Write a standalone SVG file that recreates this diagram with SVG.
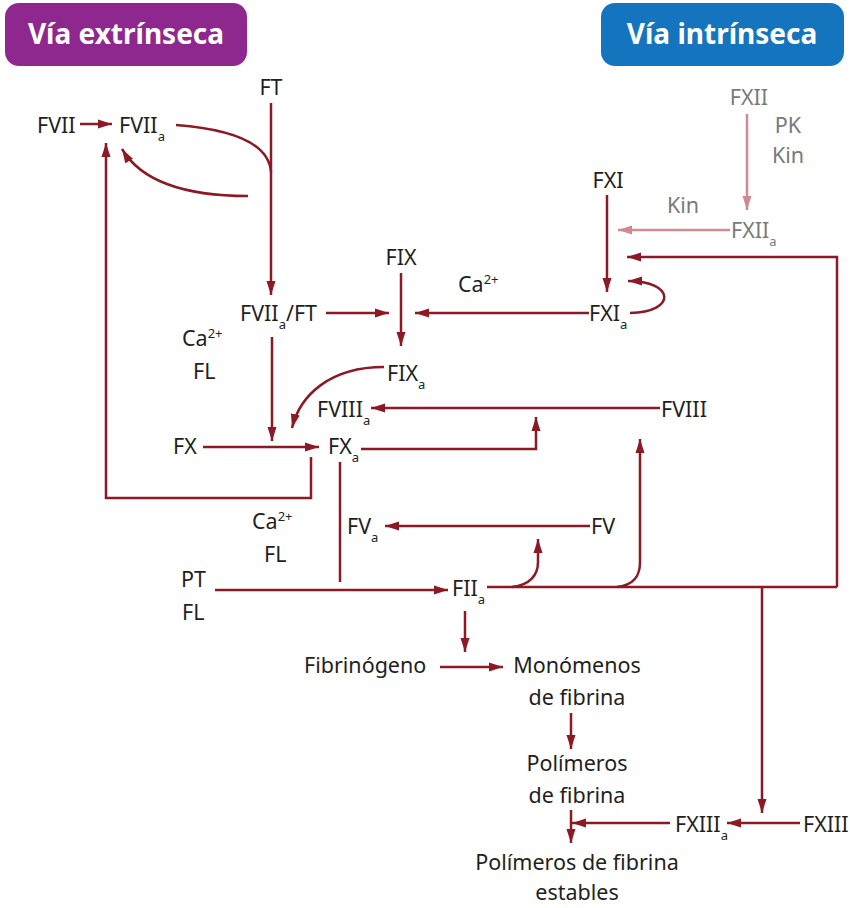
<svg xmlns="http://www.w3.org/2000/svg" width="850" height="908" viewBox="0 0 850 908">
<style>
text{font-family:"Noto Sans","Open Sans","Liberation Sans",sans-serif;font-size:21.5px;fill:#231F20}
.g{fill:#7a7a7a}
.h{font-size:28px;font-weight:bold;fill:#fff;text-anchor:middle}
.m{text-anchor:middle}
.s{font-size:13px}
.c{fill:none;stroke:#8B1A24;stroke-width:2.5}
.p{fill:none;stroke:#D08A90;stroke-width:2.5}
</style>
<defs>
<marker id="ar" markerUnits="userSpaceOnUse" markerWidth="15" markerHeight="10" refX="14" refY="5" orient="auto"><path d="M0,0.5 L14,5 L0,9.5 z" fill="#8B1A24"/></marker>
<marker id="ap" markerUnits="userSpaceOnUse" markerWidth="15" markerHeight="10" refX="14" refY="5" orient="auto"><path d="M0,0.5 L14,5 L0,9.5 z" fill="#D08A90"/></marker>
</defs>
<rect width="850" height="908" fill="#fff"/>
<g id="hdr-ext"><rect x="5" y="3" width="242" height="63" rx="14" fill="#8E288F"/><text class="h" x="126" y="44">Vía extrínseca</text></g>
<g id="hdr-int"><rect x="601" y="3" width="243" height="63" rx="14" fill="#1475BE"/><text class="h" x="722" y="44">Vía intrínseca</text></g>

<g id="connectors">
<line class="c" x1="80" y1="124" x2="112" y2="124" marker-end="url(#ar)"/>
<path class="c" d="M176,125 Q268,132 271,172"/>
<line class="c" x1="271" y1="103" x2="271" y2="295" marker-end="url(#ar)"/>
<path class="c" d="M248,196 Q150,196 122,149" marker-end="url(#ar)"/>
<path class="c" d="M311,457 L311,498 L106,498 L106,143" marker-end="url(#ar)"/>
<line class="c" x1="326" y1="313" x2="389" y2="313" marker-end="url(#ar)"/>
<line class="c" x1="401" y1="273" x2="401" y2="346" marker-end="url(#ar)"/>
<line class="c" x1="589" y1="313" x2="415" y2="313" marker-end="url(#ar)"/>
<line class="c" x1="607" y1="195" x2="607" y2="292" marker-end="url(#ar)"/>
<path class="c" d="M630,313 C677,312 675,281 628,281" marker-end="url(#ar)"/>
<line class="p" x1="747" y1="114" x2="747" y2="210" marker-end="url(#ap)"/>
<line class="p" x1="730" y1="230" x2="618" y2="230" marker-end="url(#ap)"/>
<path class="c" d="M837,587 L837,257 L627,257" marker-end="url(#ar)"/>
<line class="c" x1="272" y1="337" x2="272" y2="441" marker-end="url(#ar)"/>
<path class="c" d="M384,367 C330,367 300,395 292,428" marker-end="url(#ar)"/>
<line class="c" x1="203" y1="447" x2="319" y2="447" marker-end="url(#ar)"/>
<line class="c" x1="660" y1="408" x2="371" y2="408" marker-end="url(#ar)"/>
<path class="c" d="M361,449 L536,449 L536,417" marker-end="url(#ar)"/>
<line class="c" x1="340" y1="462" x2="340" y2="582"/>
<line class="c" x1="590" y1="526" x2="385" y2="526" marker-end="url(#ar)"/>
<line class="c" x1="215" y1="590" x2="448" y2="590" marker-end="url(#ar)"/>
<line class="c" x1="487" y1="587" x2="837" y2="587"/>
<path class="c" d="M512,587 C530,585 538,575 538,562 L538,539" marker-end="url(#ar)"/>
<path class="c" d="M617,587 C635,585 640,575 640,562 L640,439" marker-end="url(#ar)"/>
<line class="c" x1="465" y1="611" x2="465" y2="652" marker-end="url(#ar)"/>
<line class="c" x1="440" y1="667" x2="503" y2="667" marker-end="url(#ar)"/>
<line class="c" x1="571" y1="713" x2="571" y2="749" marker-end="url(#ar)"/>
<line class="c" x1="571" y1="810" x2="571" y2="843" marker-end="url(#ar)"/>
<line class="c" x1="670" y1="823" x2="572" y2="823" marker-end="url(#ar)"/>
<line class="c" x1="800" y1="823" x2="727" y2="823" marker-end="url(#ar)"/>
<line class="c" x1="762" y1="587" x2="762" y2="813" marker-end="url(#ar)"/>
</g>

<g id="n-ft"><text class="m" x="271" y="95">FT</text></g>
<g id="n-fvii"><text x="37" y="133">FVII</text></g>
<g id="n-fviia"><text x="119" y="133">FVII<tspan class="s" dy="8">a</tspan></text></g>
<g id="n-fviiaft"><text x="240" y="321">FVII<tspan class="s" dy="8">a</tspan><tspan dy="-8">/FT</tspan></text></g>
<g id="n-ca1"><text x="182" y="346">Ca<tspan class="s" dy="-8">2+</tspan></text><text x="193" y="379">FL</text></g>
<g id="n-fix"><text class="m" x="401" y="265">FIX</text></g>
<g id="n-ca2"><text x="458" y="292">Ca<tspan class="s" dy="-8">2+</tspan></text></g>
<g id="n-fxi"><text class="m" x="608" y="188">FXI</text></g>
<g id="n-fxia"><text x="589" y="321">FXI<tspan class="s" dy="8">a</tspan></text></g>
<g id="n-fxii"><text class="m g" x="749" y="105">FXII</text></g>
<g id="n-pk"><text class="m g" x="788" y="133">PK</text><text class="m g" x="788" y="163">Kin</text></g>
<g id="n-kin"><text class="m g" x="683" y="213">Kin</text></g>
<g id="n-fxiia"><text class="g" x="731" y="238">FXII<tspan class="s" dy="8">a</tspan></text></g>
<g id="n-fixa"><text x="387" y="381">FIX<tspan class="s" dy="8">a</tspan></text></g>
<g id="n-fviiia"><text x="317" y="417">FVIII<tspan class="s" dy="8">a</tspan></text></g>
<g id="n-fviii"><text x="661" y="417">FVIII</text></g>
<g id="n-fx"><text x="173" y="454">FX</text></g>
<g id="n-fxa"><text x="328" y="454">FX<tspan class="s" dy="8">a</tspan></text></g>
<g id="n-ca3"><text x="252" y="529">Ca<tspan class="s" dy="-8">2+</tspan></text><text x="264" y="562">FL</text></g>
<g id="n-fva"><text x="347" y="534">FV<tspan class="s" dy="8">a</tspan></text></g>
<g id="n-fv"><text x="591" y="534">FV</text></g>
<g id="n-pt"><text x="181" y="587">PT</text><text x="182" y="620">FL</text></g>
<g id="n-fiia"><text x="452" y="596">FII<tspan class="s" dy="8">a</tspan></text></g>
<g id="n-fib"><text x="304" y="673">Fibrinógeno</text></g>
<g id="n-mono"><text class="m" x="577" y="673">Monómenos</text><text class="m" x="577" y="705">de fibrina</text></g>
<g id="n-poli"><text class="m" x="577" y="771">Polímeros</text><text class="m" x="577" y="803">de fibrina</text></g>
<g id="n-fxiiia"><text x="675" y="832">FXIII<tspan class="s" dy="8">a</tspan></text></g>
<g id="n-fxiii"><text x="803" y="832">FXIII</text></g>
<g id="n-estab"><text class="m" x="577" y="870">Polímeros de fibrina</text><text class="m" x="577" y="900">estables</text></g>
</svg>
